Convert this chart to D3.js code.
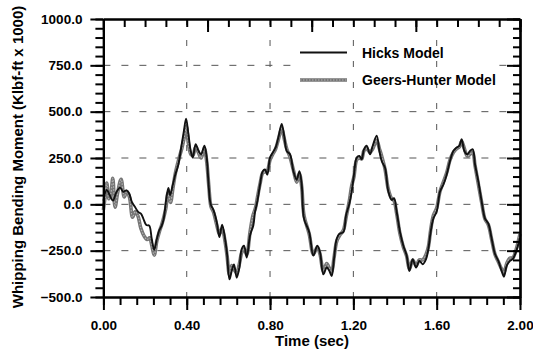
<!DOCTYPE html>
<html><head><meta charset="utf-8">
<script src="https://cdn.jsdelivr.net/npm/d3@7"></script>
<style>body{margin:0;background:#fff}svg{display:block}text{font-family:"Liberation Sans",Arial,sans-serif;font-weight:bold;fill:#000}</style>
</head><body><svg id="c" width="533" height="353"></svg>
<script>
const seriesNames = ["Hicks Model", "Geers-Hunter Model"];
const hicksTime = [0.000,0.016,0.032,0.046,0.062,0.080,0.095,0.110,0.124,0.136,0.152,0.168,0.180,0.192,0.206,0.220,0.232,0.244,0.256,0.268,0.280,0.290,0.302,0.312,0.320,0.333,0.345,0.360,0.376,0.387,0.397,0.408,0.419,0.429,0.443,0.456,0.469,0.485,0.496,0.504,0.515,0.528,0.544,0.557,0.570,0.584,0.593,0.605,0.616,0.627,0.640,0.653,0.664,0.675,0.688,0.704,0.720,0.728,0.739,0.752,0.765,0.776,0.787,0.800,0.813,0.827,0.840,0.856,0.869,0.880,0.896,0.912,0.928,0.941,0.952,0.963,0.988,1.008,1.027,1.040,1.056,1.072,1.085,1.096,1.107,1.120,1.133,1.152,1.165,1.181,1.192,1.203,1.216,1.229,1.240,1.251,1.264,1.280,1.293,1.312,1.325,1.336,1.352,1.368,1.384,1.395,1.408,1.424,1.440,1.456,1.469,1.485,1.501,1.517,1.533,1.549,1.560,1.571,1.584,1.600,1.616,1.632,1.648,1.664,1.680,1.696,1.709,1.720,1.733,1.747,1.760,1.773,1.784,1.800,1.816,1.832,1.848,1.864,1.880,1.896,1.912,1.923,1.936,1.952,1.965,1.980,2.000];
const hicksMoment = [20,78,45,20,65,90,68,75,58,15,-15,-42,-50,-78,-112,-115,-186,-245,-190,-140,-115,-75,30,88,50,105,160,215,325,400,462,380,290,252,325,290,270,316,252,124,0,-30,-95,-177,-110,-186,-260,-405,-360,-325,-396,-340,-241,-223,-287,-168,-113,-40,15,106,179,188,160,252,279,307,361,434,361,288,270,179,133,179,106,-77,-150,-277,-223,-259,-378,-341,-360,-387,-296,-186,-159,-150,-58,5,69,160,252,261,243,297,316,270,316,370,288,234,197,69,24,33,-40,-150,-223,-277,-360,-296,-341,-305,-323,-296,-241,-150,-77,-40,69,106,160,234,288,307,316,352,288,270,288,297,215,124,15,-77,-104,-186,-268,-305,-360,-390,-332,-305,-296,-259,-180];
const geersTime = [0.000,0.008,0.016,0.026,0.036,0.045,0.056,0.068,0.085,0.100,0.112,0.125,0.140,0.152,0.165,0.180,0.195,0.210,0.222,0.232,0.244,0.256,0.268,0.280,0.290,0.300,0.310,0.322,0.334,0.346,0.360,0.376,0.388,0.398,0.408,0.420,0.430,0.443,0.456,0.469,0.485,0.496,0.506,0.516,0.528,0.544,0.557,0.570,0.584,0.594,0.605,0.616,0.627,0.640,0.653,0.664,0.675,0.688,0.704,0.718,0.730,0.740,0.752,0.765,0.776,0.787,0.800,0.813,0.827,0.840,0.856,0.869,0.880,0.896,0.912,0.928,0.941,0.952,0.963,0.988,1.008,1.027,1.040,1.056,1.072,1.085,1.096,1.107,1.120,1.133,1.152,1.165,1.181,1.192,1.203,1.216,1.229,1.240,1.251,1.264,1.280,1.293,1.312,1.325,1.336,1.352,1.368,1.384,1.395,1.408,1.424,1.440,1.456,1.469,1.485,1.501,1.517,1.533,1.549,1.560,1.571,1.584,1.600,1.616,1.632,1.648,1.664,1.680,1.696,1.709,1.720,1.733,1.747,1.760,1.773,1.784,1.800,1.816,1.832,1.848,1.864,1.880,1.896,1.912,1.923,1.936,1.952,1.965,1.980,2.000];
const geersMoment = [-30,40,115,30,60,140,-15,60,135,40,70,40,-70,-40,-60,-130,-170,-190,-180,-220,-275,-200,-150,-110,-70,-20,60,10,90,170,235,300,360,420,330,270,265,310,280,250,300,230,100,-10,-40,-110,-160,-130,-200,-280,-380,-330,-350,-370,-320,-260,-240,-270,-150,-60,-20,40,110,170,175,180,240,270,300,350,410,350,300,255,185,120,165,95,-60,-160,-270,-230,-270,-360,-320,-345,-365,-290,-200,-170,-140,-70,20,100,150,240,250,245,290,300,280,300,345,300,260,190,80,30,20,-50,-160,-230,-280,-350,-300,-330,-300,-300,-270,-230,-140,-60,-20,70,120,170,240,280,300,310,340,300,260,270,280,210,110,10,-80,-110,-190,-270,-310,-350,-370,-320,-290,-290,-250,-160];
const xMajorTicks = [0, 0.4, 0.8, 1.2, 1.6, 2.0];
const xMinorTicks = d3.range(0, 2.0001, 0.08);
const topMajorTicks = [0, 0.5, 1.0, 1.5, 2.0];
const topMinorTicks = d3.range(0, 2.0001, 0.1);
const yMajorTicks = [-500, -250, 0, 250, 500, 750, 1000];
const yMinorTicks = d3.range(-500, 1000.001, 50);
const xGrid = [0.4, 0.8, 1.2, 1.6];
const yGrid = [-250, 0, 250, 500, 750];
const xTitle = "Time (sec)";
const yTitle = "Whipping Bending Moment (Klbf-ft x 1000)";

const svg = d3.select("#c");
const L = 103.4, R = 520, T = 19, B = 297;
const x = d3.scaleLinear().domain([0, 2]).range([L, R]);
const y = d3.scaleLinear().domain([-500, 1000]).range([B, T]);

svg.append("g").selectAll("line").data(yGrid).join("line")
  .attr("x1", L).attr("x2", R).attr("y1", d => y(d)).attr("y2", d => y(d))
  .attr("stroke", "#555").attr("stroke-width", 1).attr("stroke-dasharray", "7,11");
svg.append("rect").attr("x", 296).attr("y", 36).attr("width", 202).attr("height", 58).attr("fill", "#fff");
svg.append("g").selectAll("line").data(xGrid).join("line")
  .attr("x1", d => x(d)).attr("x2", d => x(d)).attr("y1", T).attr("y2", B)
  .attr("stroke", "#555").attr("stroke-width", 1).attr("stroke-dasharray", "6,15");

const line = d3.line().x(d => x(d[0])).y(d => y(d[1])).curve(d3.curveCatmullRom.alpha(0.5));
const geers = geersTime.map((t, i) => [t, geersMoment[i]]);
const hicks = hicksTime.map((t, i) => [t, hicksMoment[i]]);
svg.append("path").datum(geers).attr("d", line).attr("fill", "none").attr("stroke", "#747474").attr("stroke-width", 3.6).attr("stroke-linejoin", "round");
svg.append("path").datum(geers).attr("d", line).attr("fill", "none").attr("stroke", "#b4b4b4").attr("stroke-width", 1.1).attr("stroke-dasharray", "1.5,1.5");
svg.append("path").datum(hicks).attr("d", line).attr("fill", "none").attr("stroke", "#111").attr("stroke-width", 1.9).attr("stroke-linejoin", "round");

function styleAxis(g) {
  g.selectAll("path.domain").attr("stroke", "#000").attr("stroke-width", 2.2);
  g.selectAll(".tick line").attr("stroke", "#000").attr("stroke-width", 2);
  g.selectAll(".tick text").style("font-size", "13.5px").style("font-weight", "bold").attr("fill", "#000");
}
svg.append("g").attr("transform", `translate(0,${B})`)
  .call(d3.axisBottom(x).tickValues(xMinorTicks).tickSize(8).tickSizeOuter(0).tickFormat("")).call(styleAxis);
svg.append("g").attr("transform", `translate(0,${B})`)
  .call(d3.axisBottom(x).tickValues(xMajorTicks).tickSize(13).tickSizeOuter(0).tickPadding(10).tickFormat(d3.format(".2f"))).call(styleAxis);
svg.append("g").attr("transform", `translate(0,${T})`)
  .call(d3.axisBottom(x).tickValues(topMinorTicks).tickSize(8).tickSizeOuter(0).tickFormat("")).call(styleAxis);
svg.append("g").attr("transform", `translate(0,${T})`)
  .call(d3.axisBottom(x).tickValues(topMajorTicks).tickSize(13).tickSizeOuter(0).tickFormat("")).call(styleAxis);
svg.append("g").attr("transform", `translate(${L},0)`)
  .call(d3.axisLeft(y).tickValues(yMinorTicks).tickSize(8).tickSizeOuter(0).tickFormat("")).call(styleAxis);
svg.append("g").attr("transform", `translate(${L},0)`)
  .call(d3.axisLeft(y).tickValues(yMajorTicks).tickSize(13).tickSizeOuter(0).tickPadding(8).tickFormat(d3.format(".1f"))).call(styleAxis);
svg.append("g").attr("transform", `translate(${R},0)`)
  .call(d3.axisLeft(y).tickValues(yMinorTicks).tickSize(7).tickSizeOuter(0).tickFormat("")).call(styleAxis);
svg.append("g").attr("transform", `translate(${R},0)`)
  .call(d3.axisLeft(y).tickValues(yMajorTicks).tickSize(13).tickSizeOuter(0).tickFormat("")).call(styleAxis);

svg.append("text").attr("x", 312).attr("y", 346).attr("text-anchor", "middle").style("font-size", "15px").text(xTitle);
svg.append("text").attr("transform", `translate(23,${(T + B) / 2})`).append("tspan").text("");
svg.append("text").attr("transform", `translate(23,157) rotate(-90)`).attr("text-anchor", "middle").style("font-size", "15px").text(yTitle);

const leg = svg.append("g");
leg.append("line").attr("x1", 300).attr("x2", 347).attr("y1", 52.5).attr("y2", 52.5).attr("stroke", "#111").attr("stroke-width", 1.9);
leg.append("line").attr("x1", 300).attr("x2", 347).attr("y1", 80).attr("y2", 80).attr("stroke", "#747474").attr("stroke-width", 3.6);
leg.append("line").attr("x1", 300).attr("x2", 347).attr("y1", 80).attr("y2", 80).attr("stroke", "#b4b4b4").attr("stroke-width", 1.1).attr("stroke-dasharray", "1.5,1.5");
leg.selectAll("text.lg").data(seriesNames).join("text").attr("class", "lg")
  .attr("x", 362).attr("y", (d, i) => 57.5 + i * 27.5).style("font-size", "14px").text(d => d);
</script></body></html>
